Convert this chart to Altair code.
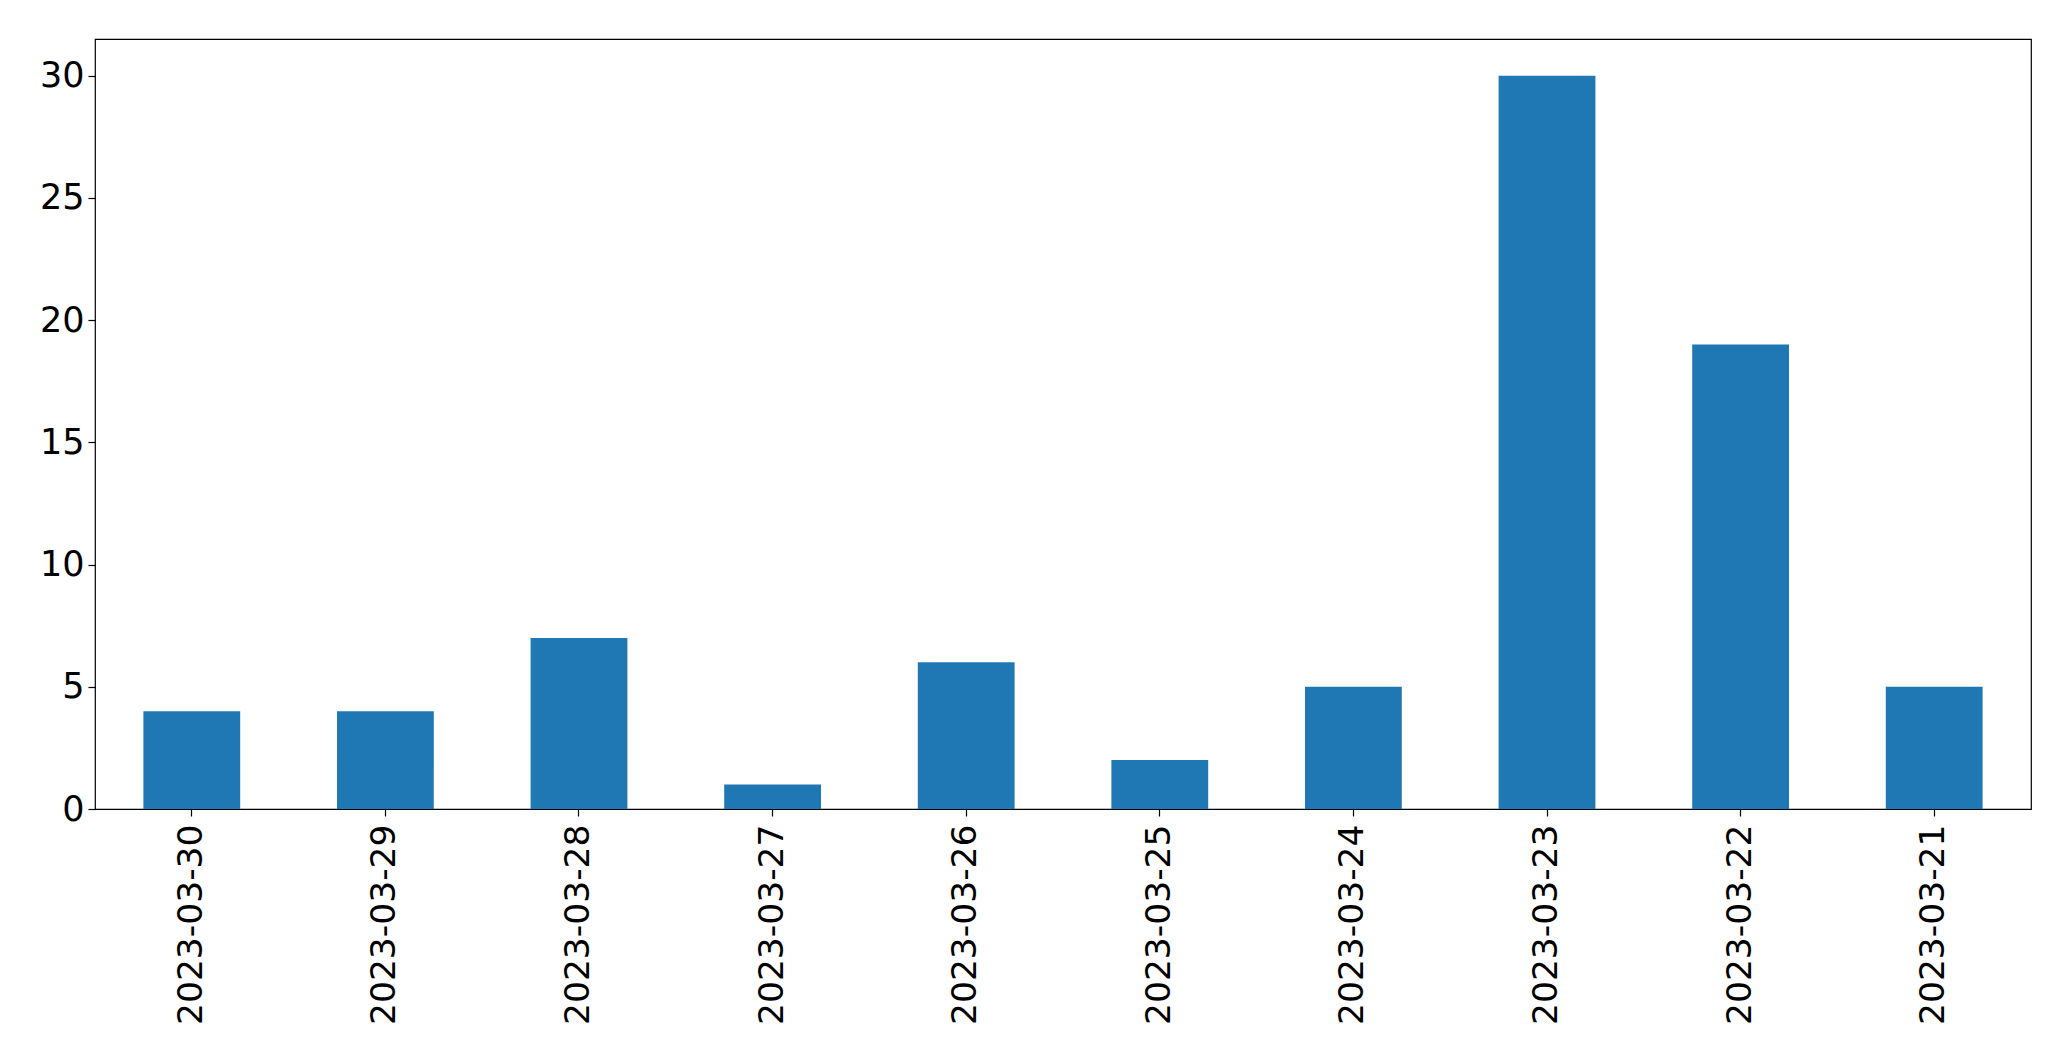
import altair as alt
import pandas as pd

dates = ["2023-03-30", "2023-03-29", "2023-03-28", "2023-03-27", "2023-03-26",
         "2023-03-25", "2023-03-24", "2023-03-23", "2023-03-22", "2023-03-21"]
counts = [4, 4, 7, 1, 6, 2, 5, 30, 19, 5]
y_ticks = [0, 5, 10, 15, 20, 25, 30]

df = pd.DataFrame({"date": dates, "count": counts})

chart = alt.Chart(df).mark_bar(color="#1f77b4").encode(
    x=alt.X("date:N", sort=None, title=None,
            scale=alt.Scale(paddingInner=0.5, paddingOuter=0.25),
            axis=alt.Axis(labelAngle=-90, labelFontSize=34.5, labelFont="DejaVu Sans",
                          labelColor="black", tickColor="black", tickSize=7,
                          tickWidth=1.2, labelPadding=8, labelLimit=0, domain=False)),
    y=alt.Y("count:Q", title=None,
            scale=alt.Scale(domain=[0, 31.5], nice=False),
            axis=alt.Axis(values=y_ticks, grid=False, labelFontSize=35,
                          labelFont="DejaVu Sans", labelColor="black",
                          tickColor="black", tickSize=7, tickWidth=1.2,
                          labelPadding=4, domain=False)),
).properties(
    width=1936, height=770,
    background="white",
    autosize=alt.AutoSizeParams(type="none"),
    padding={"left": 87, "top": 31, "right": 32, "bottom": 240},
).configure_view(stroke="black", strokeWidth=1.2)

chart.save("out.html", embed_options={"renderer": "svg", "actions": False})
